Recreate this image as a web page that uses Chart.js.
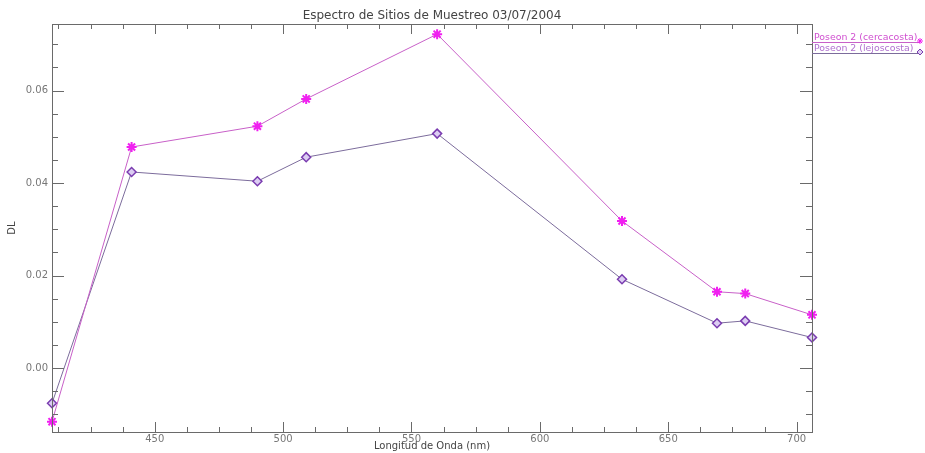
<!DOCTYPE html>
<html>
<head>
<meta charset="utf-8">
<script src="https://cdn.jsdelivr.net/npm/chart.js@4"></script>
<style>
html,body{margin:0;padding:0;background:#fff;}
canvas{display:block;}
</style>
</head>
<body>
<canvas id="c" width="925" height="453" style="width:925px;height:453px"></canvas>
<script>
// ---- data ----
const wavelengths = [410, 441, 490, 509, 560, 632, 669, 680, 706];
const cercacosta  = [-0.0116, 0.0478, 0.0523, 0.0582, 0.0722, 0.0318, 0.0165, 0.0161, 0.0115];
const lejoscosta  = [-0.0076, 0.0424, 0.0404, 0.0456, 0.0507, 0.0192, 0.0097, 0.0102, 0.0066];
const seriesNames = ["Poseon 2 (cercacosta)", "Poseon 2 (lejoscosta)"];
const titleText = "Espectro de Sitios de Muestreo 03/07/2004";
const xTitle = "Longitud de Onda (nm)";
const yTitle = "DL";
const xMajorStep = 50, xMinorStep = 12.5;
const yMajorStep = 0.02, yMinorStep = 0.005;

const toPts = (xs, ys) => xs.map((x, i) => ({x: x, y: ys[i]}));

const AX = '#6a6a6a';
const decor = {
  id: 'decor',
  afterDatasetsDraw(chart) {
    const ctx = chart.ctx, a = chart.chartArea;
    const xs = chart.scales.x, ys = chart.scales.y;
    ctx.save();
    ctx.strokeStyle = AX; ctx.lineWidth = 1;
    ctx.strokeRect(a.left + 0.5, a.top + 0.5, a.right - a.left, a.bottom - a.top);
    ctx.beginPath();
    const x0 = Math.ceil(xs.min / xMinorStep) * xMinorStep;
    for (let v = x0; v <= xs.max + 1e-9; v += xMinorStep) {
      const px = Math.round(xs.getPixelForValue(v)) + 0.5;
      const major = Math.abs(v / xMajorStep - Math.round(v / xMajorStep)) < 1e-6;
      const L = major ? 10 : 5;
      ctx.moveTo(px, a.bottom); ctx.lineTo(px, a.bottom - L);
      ctx.moveTo(px, a.top); ctx.lineTo(px, a.top + L);
    }
    const y0 = Math.ceil(ys.min / yMinorStep - 1e-9) * yMinorStep;
    for (let v = y0; v <= ys.max + 1e-9; v += yMinorStep) {
      const py = Math.round(ys.getPixelForValue(v)) + 0.5;
      const major = Math.abs(v / yMajorStep - Math.round(v / yMajorStep)) < 1e-6;
      const L = major ? 12 : 6;
      ctx.moveTo(a.left, py); ctx.lineTo(a.left + L, py);
      ctx.moveTo(a.right, py); ctx.lineTo(a.right - L, py);
    }
    ctx.stroke();

    ctx.fillStyle = '#444';
    ctx.font = '12px "DejaVu Sans"';
    ctx.textAlign = 'center'; ctx.textBaseline = 'middle';
    ctx.fillText(titleText, (a.left + a.right) / 2, 16);
    ctx.font = '10px "DejaVu Sans"';
    ctx.fillText(xTitle, (a.left + a.right) / 2, 446);
    ctx.save();
    ctx.translate(12, (a.top + a.bottom) / 2);
    ctx.rotate(-Math.PI / 2);
    ctx.fillText(yTitle, 0, 0);
    ctx.restore();

    const ds = chart.data.datasets;
    const legY = [40, 51];
    ctx.textAlign = 'left'; ctx.textBaseline = 'alphabetic';
    ctx.font = '9.4px "DejaVu Sans"';
    ds.forEach((d, i) => {
      const y = legY[i];
      ctx.fillStyle = d.legendText;
      ctx.fillText(d.label, 814, y);
      ctx.strokeStyle = d.borderColor; ctx.lineWidth = 1;
      ctx.beginPath(); ctx.moveTo(812, y + 2.5); ctx.lineTo(920, y + 2.5); ctx.stroke();
      ctx.fillStyle = d.pointBackgroundColor; ctx.strokeStyle = d.pointBorderColor;
      Chart.helpers.drawPoint(ctx, {pointStyle: d.pointStyle, radius: 3, borderWidth: 1}, 920, y + 1);
    });
    ctx.restore();
  }
};

new Chart(document.getElementById('c'), {
  type: 'line',
  data: {
    datasets: [
      {
        label: seriesNames[0],
        data: toPts(wavelengths, cercacosta),
        borderColor: '#c860c8', borderWidth: 1,
        pointStyle: 'star', pointRadius: 5, pointBorderWidth: 2,
        pointBorderColor: '#f020f0', pointBackgroundColor: '#f020f0',
        legendText: '#d050d0',
        clip: false, tension: 0
      },
      {
        label: seriesNames[1],
        data: toPts(wavelengths, lejoscosta),
        borderColor: '#7c6c9c', borderWidth: 1,
        pointStyle: 'rectRot', pointRadius: 4.5, pointBorderWidth: 1.5,
        pointBorderColor: '#7a3cb0', pointBackgroundColor: '#dccdf2',
        legendText: '#b070d0',
        clip: false, tension: 0
      }
    ]
  },
  options: {
    responsive: false,
    devicePixelRatio: 1,
    animation: false,
    layout: {padding: {top: 24, right: 113, left: 0, bottom: 0}},
    plugins: {legend: {display: false}, title: {display: false}, tooltip: {enabled: false}},
    scales: {
      x: {
        type: 'linear', min: 410, max: 706,
        grid: {display: false}, border: {display: false},
        ticks: {stepSize: xMajorStep, includeBounds: false, padding: -7, color: '#777',
                font: {family: 'DejaVu Sans', size: 10}, maxRotation: 0,
                callback: v => String(v)},
        afterFit: s => { s.height = 21; }
      },
      y: {
        type: 'linear', min: -0.01383, max: 0.0744,
        grid: {display: false}, border: {display: false},
        ticks: {stepSize: yMajorStep, includeBounds: false, padding: -4, color: '#777',
                font: {family: 'DejaVu Sans', size: 10},
                callback: v => v.toFixed(2)},
        afterFit: s => { s.width = 52; }
      }
    }
  },
  plugins: [decor]
});
</script>
</body>
</html>
